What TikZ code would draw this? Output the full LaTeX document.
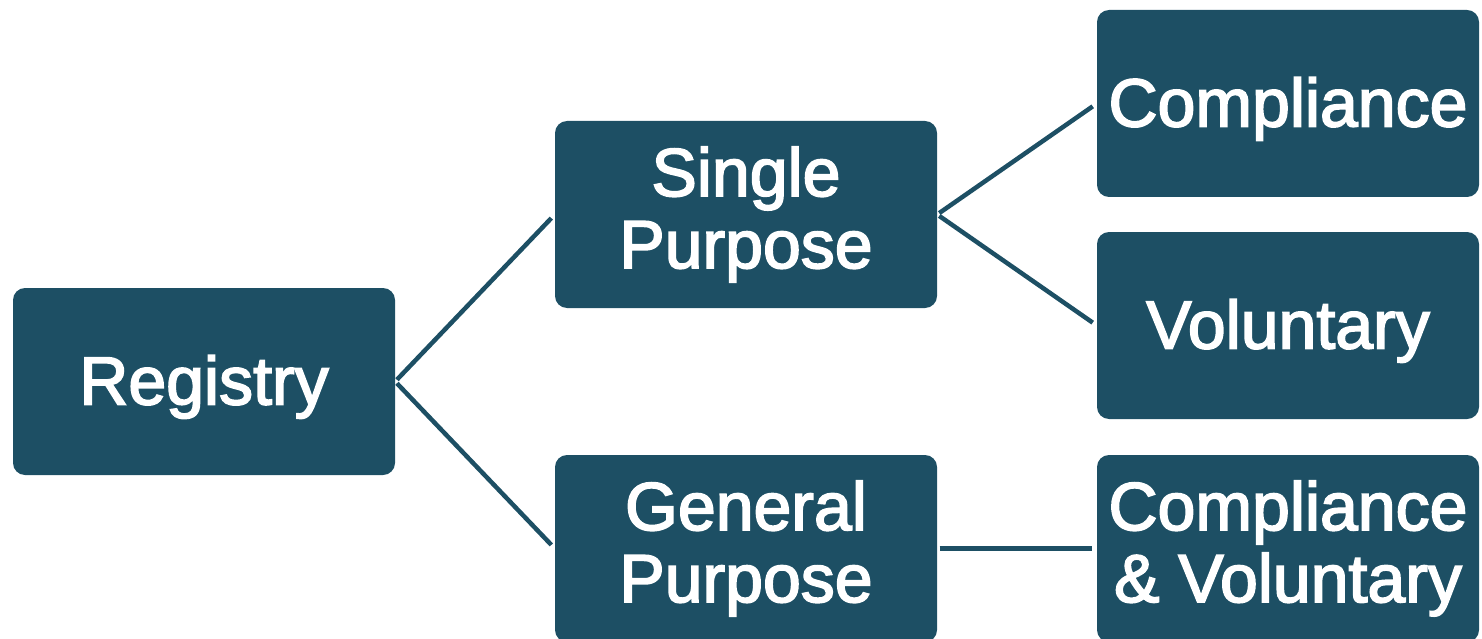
\documentclass[tikz,border=0pt]{standalone}
\usepackage{fontspec}
\setmainfont{Liberation Sans}[RawFeature={embolden=2.5}]
\definecolor{boxc}{HTML}{1D4F64}
\begin{document}
\begin{tikzpicture}[x=1pt,y=-1pt,
  box/.style={fill=boxc, rounded corners=12pt, minimum width=382pt, minimum height=187pt,
    inner sep=0pt, align=center, text=white, font=\fontsize{68}{72}\selectfont,
    execute at begin node={\rule{0pt}{60pt}}},
  link/.style={draw=boxc, line width=4.5pt, shorten <=2.5pt, shorten >=5pt}]
\useasboundingbox (0,0) rectangle (1482,639);
\node[box] (reg) at (204,381.5) {Registry};
\node[box] (sp) at (746,214.5) {Single\\Purpose};
\node[box] (gp) at (746,548.5) {General\\Purpose};
\node[box] (c) at (1288,103.5) {Compliance};
\node[box] (v) at (1288,325.5) {Voluntary};
\node[box] (cv) at (1288,548.5) {Compliance\\\&~Voluntary};
\draw[link] (reg.east) -- (sp.west);
\draw[link] (reg.east) -- (gp.west);
\draw[link] (sp.east) -- (c.west);
\draw[link] (sp.east) -- (v.west);
\draw[link] (gp.east) -- (cv.west);
\end{tikzpicture}
\end{document}
